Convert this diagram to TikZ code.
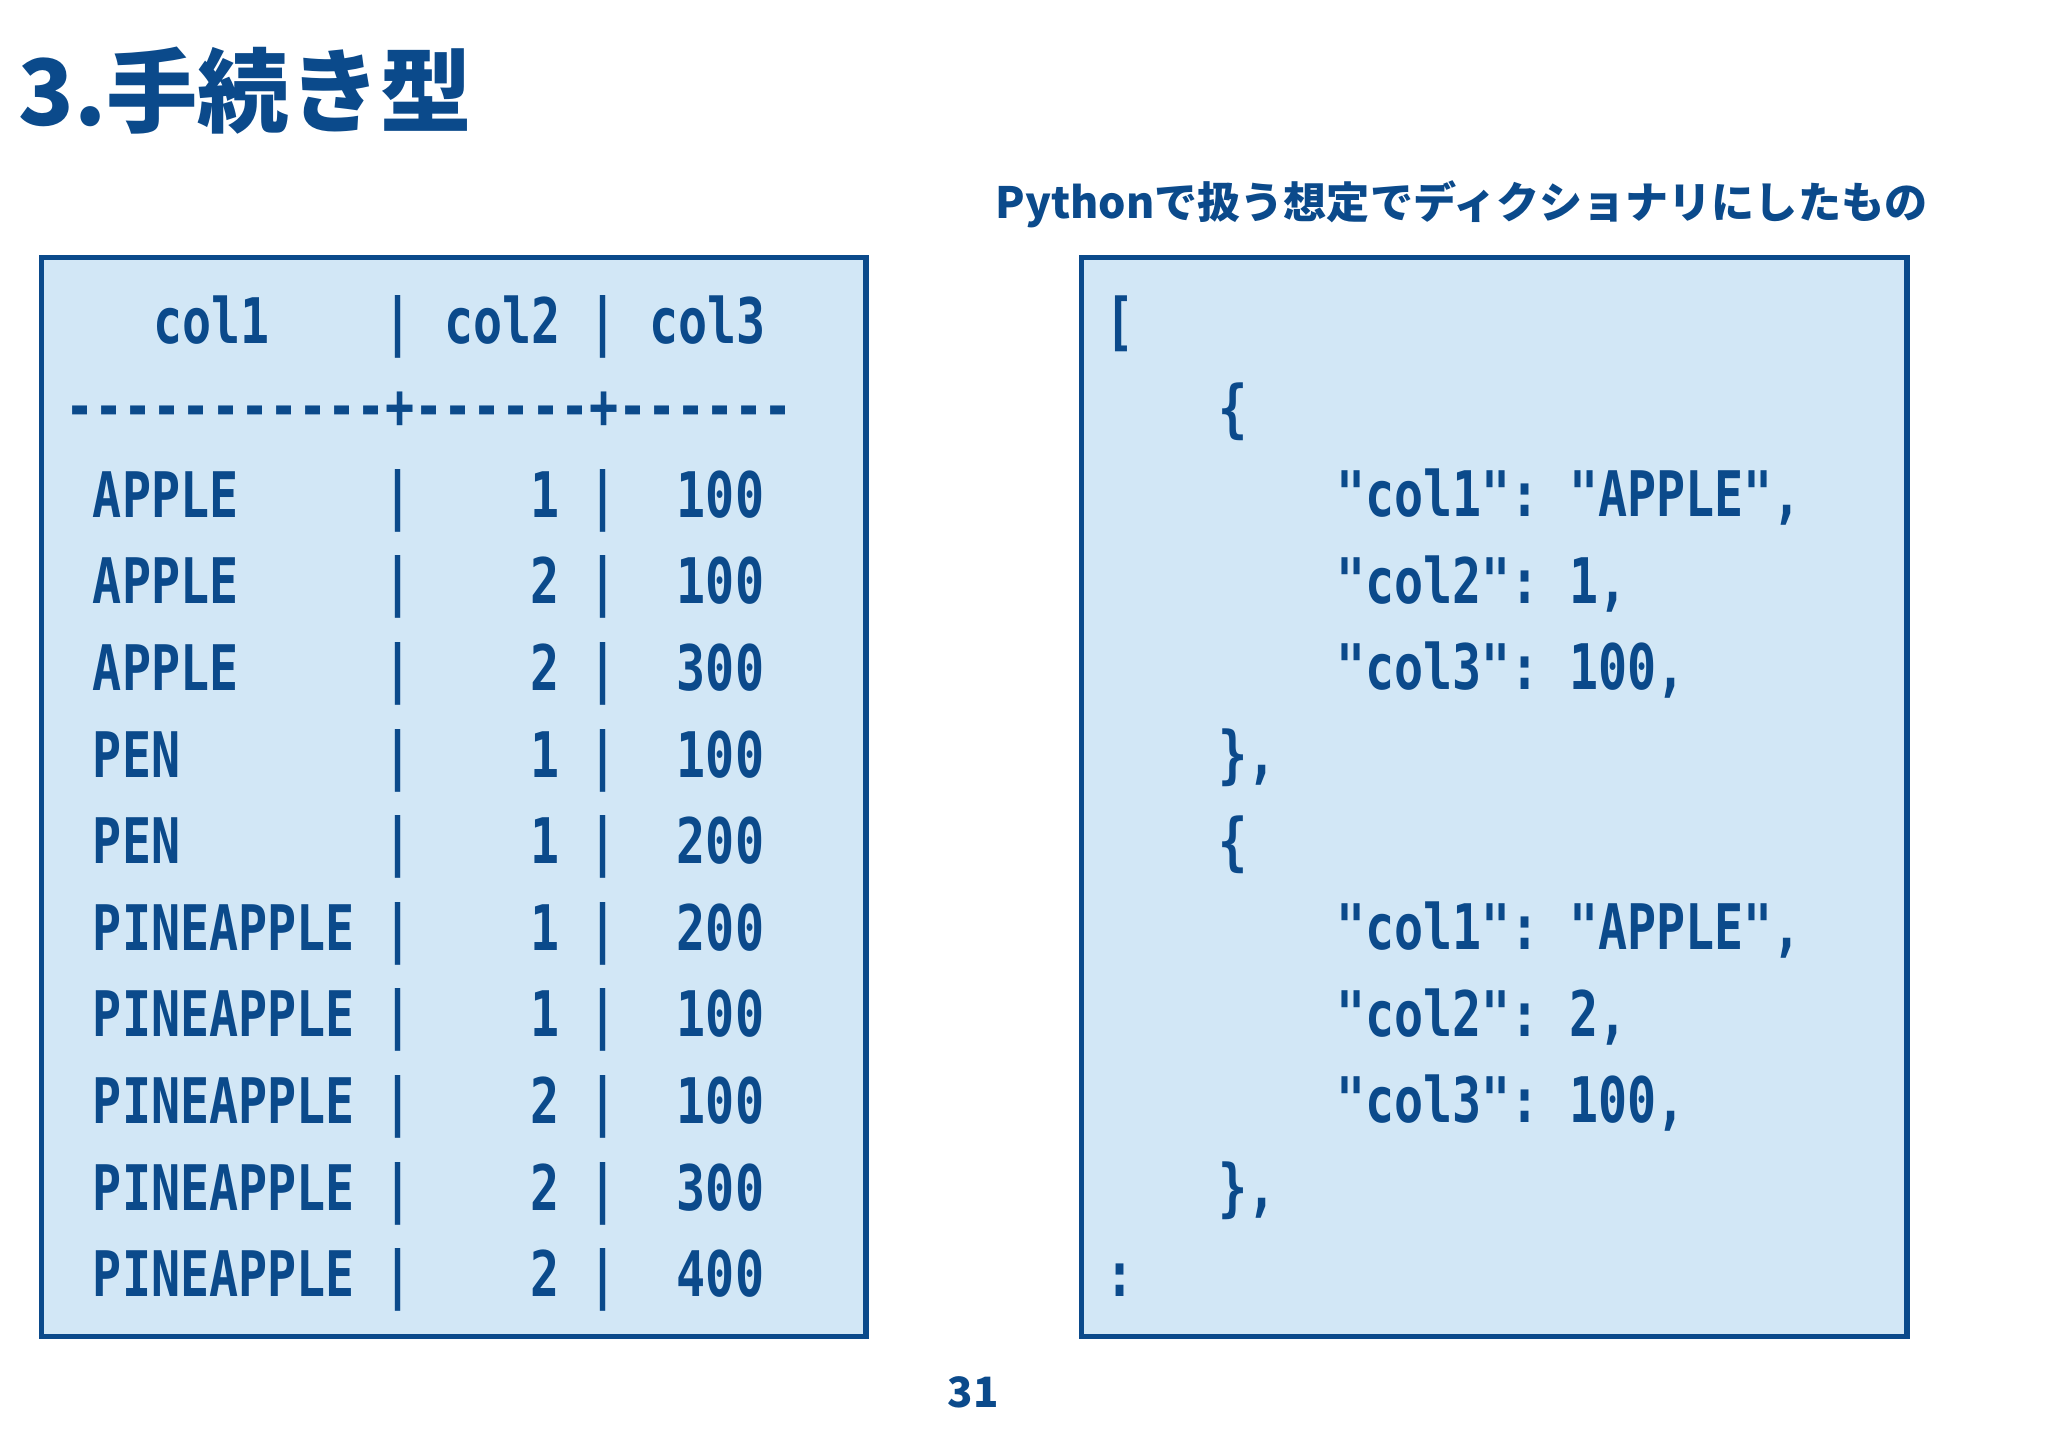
\documentclass[tikz,border=0pt]{standalone}
\usepackage{fontspec}
\setmonofont{DejaVu Sans Mono}
\newfontfamily\cjk{Noto Sans CJK JP}
\usetikzlibrary{positioning}
\definecolor{navy}{HTML}{0B4A8B}
\definecolor{pale}{HTML}{D2E7F6}
\newcommand{\mtx}[1]{\scalebox{1}[1.3]{#1}}
\tikzset{
  panel/.style={draw=navy,fill=pale,line width=4pt},
  code/.style={inner sep=0pt,text=navy,font=\fontsize{37}{37}\ttfamily\bfseries},
}
\begin{document}
\begin{tikzpicture}[x=1pt,y=-1pt]
    \useasboundingbox[fill=white] (0,0) rectangle (1568,1108);
    \node[inner sep=0pt,anchor=base west,text=navy,font=\fontsize{70}{70}\cjk\bfseries] (title) at (14,96) {3.手続き型};
    \node[inner sep=0pt,anchor=base west,text=navy,font=\fontsize{33}{33}\cjk\bfseries] (subtitle) at (762,167) {Pythonで扱う想定でディクショナリにしたもの};
    \node[inner sep=0pt,text=navy,font=\fontsize{32}{32}\cjk\bfseries] (page) at (745,1066) {31};
    % table
    \draw[panel] (32,197) rectangle (663,1023);
    \node[code,anchor=base west] (h1) at (117,263) {\mtx{col1}};
    \node[code,anchor=base] (hp1) at (305,263) {\mtx{|}};
    \node[code,anchor=base west] (h2) at (340,263) {\mtx{col2}};
    \node[code,anchor=base] (hp2) at (462,263) {\mtx{|}};
    \node[code,anchor=base west] (h3) at (497,263) {\mtx{col3}};
    \node[code,anchor=base west] (rule) at (50,328) {\mtx{-----------+------+------}};
    \foreach \name/\num/\val [count=\i from 0] in {APPLE/1/100,APPLE/2/100,APPLE/2/300,PEN/1/100,PEN/1/200,
        PINEAPPLE/1/200,PINEAPPLE/1/100,PINEAPPLE/2/100,PINEAPPLE/2/300,PINEAPPLE/2/400} {
        \pgfmathsetmacro\yy{396+66.3*\i}
        \node[code,anchor=base west] (n\i) at (71,\yy) {\mtx{\name}};
        \node[code,anchor=base] (p\i) at (305,\yy) {\mtx{|}};
        \node[code,anchor=base east] (c\i) at (429,\yy) {\mtx{\num}};
        \node[code,anchor=base] (q\i) at (462,\yy) {\mtx{|}};
        \node[code,anchor=base west] (v\i) at (518,\yy) {\mtx{\val}};
    }
    % dictionary
    \draw[panel] (828,197) rectangle (1460,1023);
    \foreach \x/\txt [count=\i from 0] in {846/{[},933/{\{},1023/{"col1": "APPLE",},1023/{"col2": 1,},1023/{"col3": 100,},933/{\},},
        933/{\{},1023/{"col1": "APPLE",},1023/{"col2": 2,},1023/{"col3": 100,},933/{\},},846/{:}} {
        \pgfmathsetmacro\yy{263+66.3*\i}
        \node[code,anchor=base west] (d\i) at (\x,\yy) {\mtx{\txt}};
    }
\end{tikzpicture}
\end{document}
